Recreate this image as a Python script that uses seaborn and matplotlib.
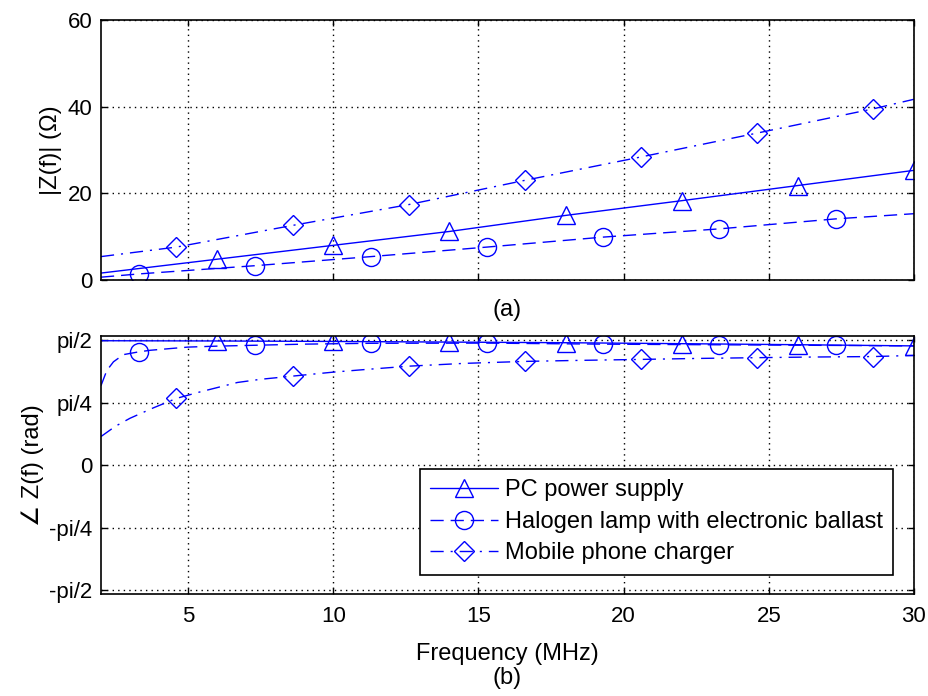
import numpy as np
import pandas as pd
import seaborn as sns
import matplotlib.pyplot as plt
from matplotlib.lines import Line2D

# series names
labels = ['PC power supply', 'Halogen lamp with electronic ballast', 'Mobile phone charger']

# marker positions (MHz)
marks_pc = [6, 10, 14, 18, 22, 26, 30]
marks_hal = [3.3, 7.3, 11.3, 15.3, 19.3, 23.3, 27.3]
marks_mob = [4.6, 8.6, 12.6, 16.6, 20.6, 24.6, 28.6]

# (a) impedance magnitude, ohm
f_pc_mag = [2, 6, 10, 14, 18, 22, 26, 30]
z_pc_mag = [1.6, 4.8, 8.0, 11.2, 14.9, 18.3, 21.8, 25.3]
f_hal_mag = [2, 3.3, 7.3, 11.3, 15.3, 19.3, 23.3, 27.3, 30]
z_hal_mag = [0.65, 1.4, 3.3, 5.4, 7.6, 9.9, 11.8, 14.1, 15.3]
f_mob_mag = [2, 4.6, 8.6, 12.6, 16.6, 20.6, 24.6, 28.6, 30]
z_mob_mag = [5.4, 7.6, 12.6, 17.4, 23.0, 28.4, 33.9, 39.5, 41.7]

# (b) impedance phase, rad
f_pc_ph = [2, 6, 10, 14, 18, 22, 26, 30]
p_pc_ph = [1.565, 1.562, 1.556, 1.548, 1.54, 1.528, 1.515, 1.50]
f_hal_ph = [2, 2.2, 2.43, 2.77, 3.3, 3.7, 4.5, 5, 6, 7.3, 9, 11.3, 15.3, 19.3, 23.3, 27.3, 30]
p_hal_ph = [1.0, 1.19, 1.30, 1.39, 1.425, 1.445, 1.47, 1.485, 1.497, 1.508, 1.522, 1.533,
            1.535, 1.522, 1.514, 1.506, 1.50]
f_mob_ph = [2, 2.5, 3, 3.8, 4.6, 5.4, 6.7, 7.5, 8.6, 10, 11, 12.6, 14.5, 16.6, 18.5, 20.6,
            22.5, 24.6, 26.5, 28.6, 30]
p_mob_ph = [0.36, 0.49, 0.59, 0.72, 0.84, 0.92, 1.04, 1.08, 1.12, 1.17, 1.2, 1.245, 1.28,
            1.305, 1.318, 1.33, 1.342, 1.352, 1.36, 1.366, 1.38]

# line styles: (marker, size, dashes)
styles = [('^', 12.5, None), ('o', 13, (9.5, 5)), ('D', 10, (9.5, 5, 1.5, 5))]

sns.set_style('ticks')
plt.rcParams['font.family'] = ['Liberation Sans', 'DejaVu Sans']
plt.rcParams['font.size'] = 17
plt.rcParams['text.color'] = 'black'
plt.rcParams['axes.labelcolor'] = 'black'

fig = plt.figure(figsize=(9.29, 6.96), dpi=100)
ax1 = fig.add_axes([0.1087, 0.5977, 0.8751, 0.3736])
ax2 = fig.add_axes([0.1087, 0.1466, 0.8751, 0.3707])


def draw(ax, f, v, marks, style):
    marker, ms, dashes = style
    every = [f.index(m) for m in marks]
    df = pd.DataFrame({'f': f, 'v': v})
    sns.lineplot(data=df, x='f', y='v', ax=ax, color='blue', lw=1.0, errorbar=None,
                 marker=marker, markevery=every, ms=ms, mfc='none', mec='blue', mew=1.0)
    line = ax.get_lines()[-1]
    if dashes:
        line.set_dashes(dashes)


draw(ax1, f_pc_mag, z_pc_mag, marks_pc, styles[0])
draw(ax1, f_hal_mag, z_hal_mag, marks_hal, styles[1])
draw(ax1, f_mob_mag, z_mob_mag, marks_mob, styles[2])

draw(ax2, f_pc_ph, p_pc_ph, marks_pc, styles[0])
draw(ax2, f_hal_ph, p_hal_ph, marks_hal, styles[1])
draw(ax2, f_mob_ph, p_mob_ph, marks_mob, styles[2])

for ax in (ax1, ax2):
    ax.set_xlim(2, 30)
    ax.set_xticks([5, 10, 15, 20, 25, 30])
    ax.grid(True, color='black', linestyle=(0, (1, 3)), linewidth=1.0)
    ax.tick_params(direction='in', length=4, width=1, top=True, right=True,
                   labelsize=16, pad=6, colors='black')
    for s in ax.spines.values():
        s.set_linewidth(1.2)
        s.set_color('black')

ax1.set_ylim(0, 60)
ax1.set_yticks([0, 20, 40, 60])
ax1.tick_params(labelbottom=False)
ax1.set_xlabel('(a)', labelpad=14, fontsize=17)
ax1.set_ylabel('|Z(f)| (Ω)', fontsize=17)

ax2.set_ylim(-1.62, 1.625)
ax2.set_yticks([-np.pi / 2, -np.pi / 4, 0, np.pi / 4, np.pi / 2])
ax2.set_yticklabels(['-pi/2', '-pi/4', '0', 'pi/4', 'pi/2'])
ax2.tick_params(axis='x', pad=9)
ax2.set_xlabel('Frequency (MHz)\n(b)', fontsize=17, linespacing=1.15, labelpad=11)
ax2.set_ylabel('∠ Z(f) (rad)', fontsize=17)

handles = [Line2D([], [], color='blue', lw=1.0, marker=m, ms=ms, mfc='none', mec='blue',
                  mew=1.0) for m, ms, d in styles]
for h, (m, ms, d) in zip(handles, styles):
    if d:
        h.set_dashes(d)
leg = ax2.legend(handles, labels, loc='lower right', bbox_to_anchor=(0.9746, 0.0736),
                 borderaxespad=0, fontsize=17, frameon=True, fancybox=False, framealpha=1,
                 edgecolor='black', borderpad=0.45, handlelength=2.85, handletextpad=0.3,
                 labelspacing=0.4)
leg.get_frame().set_linewidth(1.2)

fig.savefig('out.png', dpi=100)
